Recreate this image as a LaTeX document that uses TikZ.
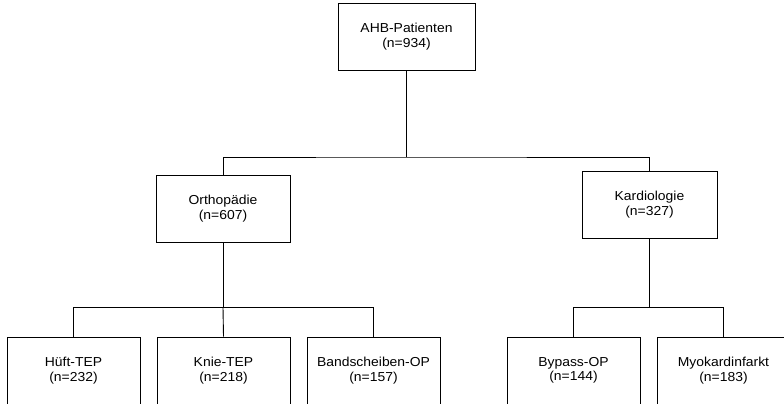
\documentclass[tikz,border=0pt]{standalone}
\usepackage{fontspec}
\setmainfont{Liberation Sans}[FakeStretch=1.07]
\usetikzlibrary{positioning}

\begin{document}
\begin{tikzpicture}[x=1pt, y=-1pt, line width=0.9pt,
  box/.style={draw, align=center, inner sep=0pt, minimum width=133pt, minimum height=67pt,
              font=\fontsize{13}{14.5}\selectfont}]
%%%
\useasboundingbox (0,0) rectangle (784,404);

% top level
\node[box, minimum width=137pt] (AHB) at (406.5,36.5) {AHB-Patienten\\(n=934)};

% departments
\node[box, minimum width=134pt] (Ortho)  at (223,208.5)   {Orthop\"adie\\(n=607)};
\node[box, minimum width=135pt] (Kardio) at (649.5,204.5) {Kardiologie\\(n=327)};

% diagnoses
\node[box] (Hueft)  at (73.5,370.5)  {H\"uft-TEP\\(n=232)};
\node[box] (Knie)   at (223.5,370.5) {Knie-TEP\\(n=218)};
\node[box] (Band)   at (373.5,370.5) {Bandscheiben-OP\\(n=157)};
\node[box] (Bypass) at (573.5,370.5) {Bypass-OP\\(n=144)};
\node[box] (Myo)    at (723.5,370.5) {Myokardinfarkt\\(n=183)};

% junctions
\coordinate (J1) at (406.5,157);
\coordinate (J2) at (223,307.5);
\coordinate (J3) at (649.5,307.5);

% lines
\draw (AHB.south) -- (J1);
\draw (Ortho.north) |- (J1) -| (Kardio.north);

\draw (Ortho.south) -- (J2);
\draw (Hueft.north) |- (J2) -| (Band.north);
\draw (J2) -- (Knie.north);

\draw (Kardio.south) -- (J3);
\draw (Bypass.north) |- (J3) -| (Myo.north);
%%%
\end{tikzpicture}
\end{document}
